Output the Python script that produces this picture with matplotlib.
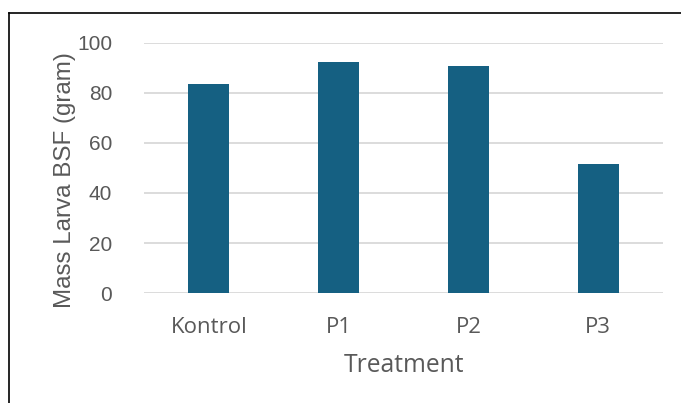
import numpy as np
import matplotlib.pyplot as plt
from matplotlib.lines import Line2D

plt.rcParams['font.family'] = ['Open Sans', 'DejaVu Sans']

# treatment groups and mean larva mass
treatments = ['Kontrol', 'P1', 'P2', 'P3']
mass = [83.3, 92.2, 90.5, 51.7]
yticks = [0, 20, 40, 60, 80, 100]

bar_color = '#156082'
text_color = '#595959'
grid_color = '#D9D9D9'

fig = plt.figure(figsize=(6.81, 4.03), dpi=100)
ax = fig.add_axes([144 / 681, 1 - 293.3 / 403, 519 / 681, (293.3 - 42.5) / 403])

x = np.arange(len(treatments))
ax.bar(x, mass, width=0.316, color=bar_color, zorder=3)

ax.set_xlim(-0.5, len(treatments) - 0.5)
ax.set_ylim(0, 100)
ax.set_yticks(yticks)
ax.set_xticks(x)
ax.set_xticklabels(treatments)
ax.grid(axis='y', color=grid_color, linewidth=1.3, zorder=0)
for s in ax.spines.values():
    s.set_visible(False)
ax.tick_params(length=0, colors=text_color)
ax.tick_params(axis='y', pad=23)
ax.tick_params(axis='x', pad=17, labelsize=16)
for lab in ax.get_yticklabels():
    lab.set_fontfamily(['Liberation Sans', 'DejaVu Sans'])
    lab.set_fontsize(15)

ax.set_xlabel('Treatment', color=text_color, fontsize=17.7, labelpad=11)
ax.set_ylabel('Mass Larva BSF (gram)', color=text_color, fontsize=17.4,
              family=['Liberation Sans', 'DejaVu Sans'])
ax.yaxis.set_label_coords((76 - 144) / 519, (293.3 - 180) / 250.8)

# outer border, only top and left edges fall inside the image
fig.add_artist(Line2D([9 / 681, 1], [1 - 13 / 403, 1 - 13 / 403],
                      transform=fig.transFigure, color='black', linewidth=1.2))
fig.add_artist(Line2D([9 / 681, 9 / 681], [0, 1 - 13 / 403],
                      transform=fig.transFigure, color='black', linewidth=1.2))

fig.savefig('out.png', dpi=100)
